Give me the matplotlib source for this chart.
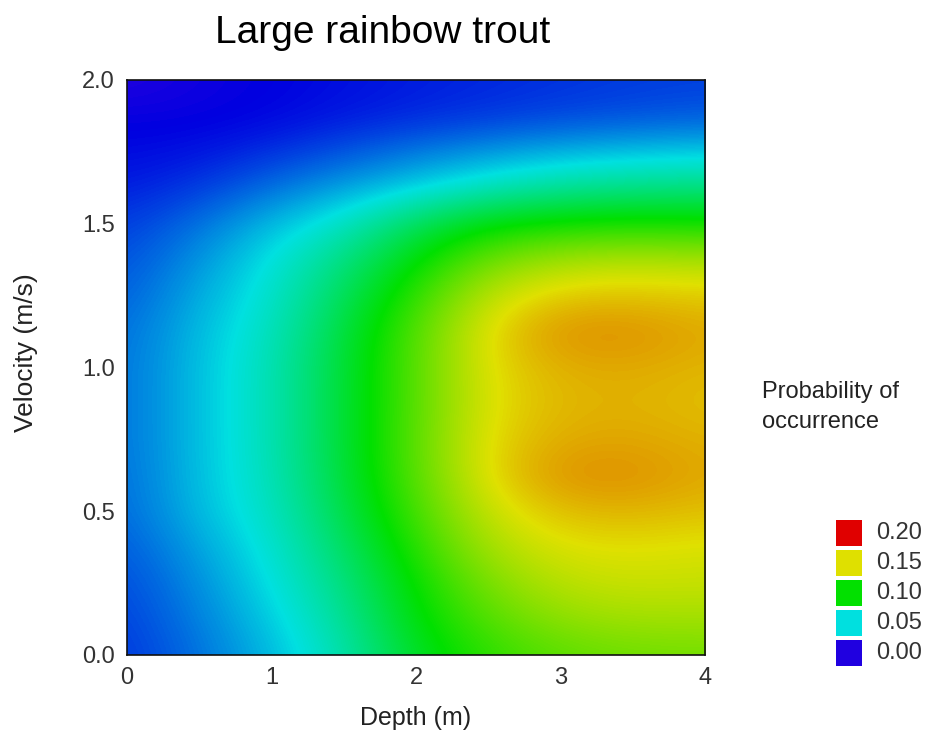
import numpy as np
import matplotlib
matplotlib.use("Agg")
import matplotlib.pyplot as plt
from matplotlib.colors import LinearSegmentedColormap
from matplotlib.patches import Rectangle

plt.rcParams['font.family'] = ['Liberation Sans', 'DejaVu Sans']

# regular grid of depth (m) and velocity (m/s)
depth = [0.0, 0.5, 1.0, 1.5, 2.0, 2.5, 3.0, 3.5, 4.0]
velocity = [0.0, 0.125, 0.25, 0.375, 0.5, 0.625, 0.75, 0.875, 1.0,
            1.125, 1.25, 1.375, 1.5, 1.625, 1.75, 1.875, 2.0]

# probability of occurrence, one row per velocity (bottom to top)
prob = [
    [0.016, 0.028, 0.042, 0.061, 0.092, 0.110, 0.120, 0.124, 0.125],
    [0.018, 0.031, 0.046, 0.066, 0.098, 0.119, 0.132, 0.136, 0.136],
    [0.020, 0.034, 0.050, 0.071, 0.102, 0.128, 0.142, 0.145, 0.144],
    [0.023, 0.038, 0.053, 0.077, 0.109, 0.138, 0.149, 0.150, 0.148],
    [0.026, 0.043, 0.056, 0.083, 0.116, 0.145, 0.158, 0.160, 0.157],
    [0.027, 0.044, 0.058, 0.087, 0.120, 0.152, 0.168, 0.168, 0.162],
    [0.028, 0.044, 0.059, 0.088, 0.121, 0.152, 0.162, 0.163, 0.160],
    [0.028, 0.044, 0.059, 0.088, 0.120, 0.150, 0.159, 0.160, 0.157],
    [0.028, 0.044, 0.059, 0.088, 0.120, 0.151, 0.161, 0.162, 0.159],
    [0.027, 0.043, 0.057, 0.086, 0.119, 0.152, 0.168, 0.168, 0.162],
    [0.024, 0.040, 0.054, 0.080, 0.111, 0.144, 0.156, 0.157, 0.155],
    [0.021, 0.035, 0.051, 0.071, 0.099, 0.125, 0.137, 0.140, 0.138],
    [0.017, 0.028, 0.043, 0.056, 0.081, 0.099, 0.104, 0.106, 0.104],
    [0.011, 0.017, 0.028, 0.038, 0.047, 0.058, 0.066, 0.070, 0.072],
    [0.007, 0.009, 0.015, 0.022, 0.030, 0.036, 0.041, 0.044, 0.046],
    [0.004, 0.004, 0.006, 0.010, 0.013, 0.016, 0.019, 0.021, 0.023],
    [0.000, 0.003, 0.005, 0.008, 0.011, 0.013, 0.015, 0.017, 0.018],
]

legend_levels = [0.20, 0.15, 0.10, 0.05, 0.00]
legend_labels = ['0.20', '0.15', '0.10', '0.05', '0.00']

vmin, vmax = 0.0, 0.20
cmap = LinearSegmentedColormap.from_list('rainbow_prob', [
    (0.0, '#2000e0'),
    (0.025, '#0000e0'),
    (0.25, '#00e0e0'),
    (0.50, '#00e000'),
    (0.75, '#e0e000'),
    (1.0, '#e00000'),
])

fig = plt.figure(figsize=(9.43, 7.4), dpi=100)
ax = fig.add_axes([0.1347, 0.1149, 0.613, 0.777])

dx = (depth[1] - depth[0]) / 2
dy = (velocity[1] - velocity[0]) / 2
ax.imshow(np.array(prob), origin='lower', cmap=cmap, vmin=vmin, vmax=vmax,
          interpolation='bicubic', aspect='auto',
          extent=(depth[0] - dx, depth[-1] + dx, velocity[0] - dy, velocity[-1] + dy))

ax.set_xlim(0, 4)
ax.set_ylim(0, 2)
ax.set_xticks([0, 1, 2, 3, 4])
ax.set_xticklabels(['0', '1', '2', '3', '4'])
ax.set_yticks([0, 0.5, 1.0, 1.5, 2.0])
ax.set_yticklabels(['0.0', '0.5', '1.0', '1.5', '2.0'])
ax.tick_params(length=0, labelsize=17, labelcolor='#333333', pad=9)
for s in ax.spines.values():
    s.set_linewidth(1.2)
    s.set_color('#111111')

ax.set_xlabel('Depth (m)', fontsize=18, color='#222222', labelpad=12)
fig.text(26 / 943, 1 - 353 / 740, 'Velocity (m/s)', rotation=90,
         ha='center', va='center', fontsize=19, color='#222222')

fig.text(383 / 943, 1 - 43 / 740, 'Large rainbow trout', ha='center',
         va='baseline', fontsize=28, color='black')

fig.text(762 / 943, 1 - 407 / 740, 'Probability of\noccurrence', ha='left',
         va='center', fontsize=17, color='#222222', linespacing=1.5)

# legend boxes
lax = fig.add_axes([0.85, 0.1176 - 0.0203, 0.15, 0.1621 + 0.0405])
lax.set_xlim(0, 1)
lax.set_ylim(-0.5, len(legend_levels) - 0.5)
lax.axis('off')
for i, (lv, lb) in enumerate(zip(legend_levels, legend_labels)):
    yy = len(legend_levels) - 1 - i
    lax.add_patch(Rectangle((0.245, yy - 0.42), 0.184, 0.84,
                            facecolor=cmap((lv - vmin) / (vmax - vmin)),
                            edgecolor='none'))
    lax.text(0.528, yy, lb, ha='left', va='center', fontsize=17,
             color='#333333')

fig.savefig('out.png', dpi=100)
